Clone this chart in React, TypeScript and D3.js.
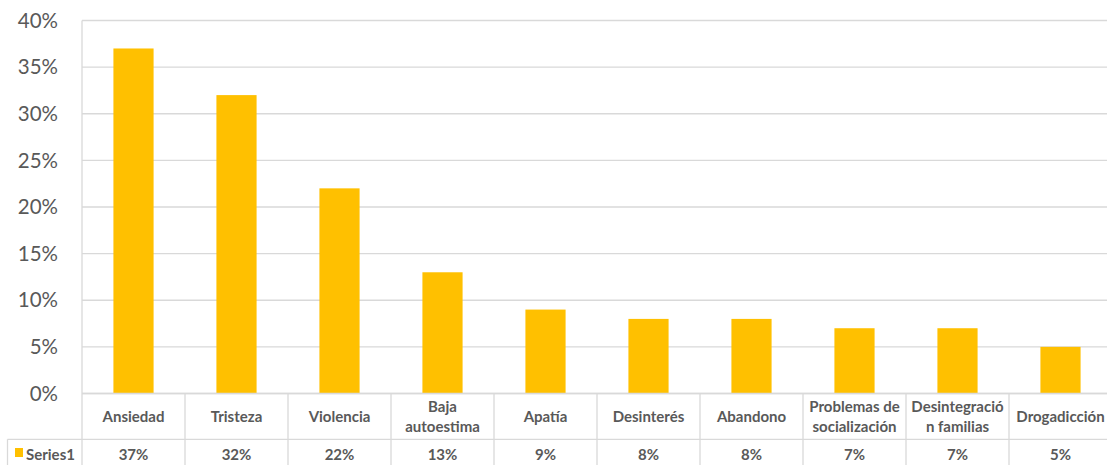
import React from "react";
import * as d3 from "d3";

const categories = [
  "Ansiedad",
  "Tristeza",
  "Violencia",
  "Baja\nautoestima",
  "Apatía",
  "Desinterés",
  "Abandono",
  "Problemas de\nsocialización",
  "Desintegració\nn familias",
  "Drogadicción",
];
const values = [0.37, 0.32, 0.22, 0.13, 0.09, 0.08, 0.08, 0.07, 0.07, 0.05];
const yTicks = [0, 0.05, 0.1, 0.15, 0.2, 0.25, 0.3, 0.35, 0.4];
const seriesName = "Series1";

const W = 1107;
const H = 465;
const left = 82;
const right = 1112;
const top = 20.5;
const bottom = 393.5;
const rowSep = 439.3;
const tableBottom = 466;
const font = "Lato, 'Open Sans', sans-serif";
const textColor = "#595959";
const gridColor = "#d9d9d9";
const barColor = "#FFC000";

export default function App() {
  const x = d3.scaleBand<string>().domain(categories).range([left, right]).paddingInner(0).paddingOuter(0);
  const y = d3.scaleLinear().domain([0, 0.4]).range([bottom, top]);
  const bw = x.bandwidth();
  const barW = bw * 0.39;
  const fmt = d3.format(".0%");

  return (
    <svg width={W} height={H} style={{ position: "absolute", left: 0, top: 0, background: "#fff" }}>
      {yTicks.map((t) => (
        <line key={"g" + t} x1={left} x2={right} y1={y(t)} y2={y(t)} stroke={gridColor} strokeWidth={1.3} />
      ))}
      {yTicks.map((t) => (
        <text
          key={"yl" + t}
          x={58}
          y={y(t)}
          dy="0.35em"
          textAnchor="end"
          fontFamily={font}
          fontSize={20.5}
          fill={textColor}
        >
          {fmt(t)}
        </text>
      ))}
      {categories.map((c, i) => (
        <rect
          key={"b" + c}
          x={(x(c) as number) + (bw - barW) / 2}
          y={y(values[i])}
          width={barW}
          height={bottom - y(values[i])}
          fill={barColor}
        />
      ))}
      <line x1={left} x2={right} y1={bottom} y2={bottom} stroke={gridColor} strokeWidth={1.3} />
      <line x1={7.5} x2={right} y1={rowSep} y2={rowSep} stroke={gridColor} strokeWidth={1.3} />
      <line x1={7.5} x2={7.5} y1={rowSep} y2={tableBottom} stroke={gridColor} strokeWidth={1.3} />
      <line x1={left} x2={left} y1={top} y2={tableBottom} stroke={gridColor} strokeWidth={1.3} />
      {categories.map((c) => (
        <line
          key={"v" + c}
          x1={(x(c) as number) + bw}
          x2={(x(c) as number) + bw}
          y1={bottom}
          y2={tableBottom}
          stroke={gridColor}
          strokeWidth={1.3}
        />
      ))}
      {categories.map((c) => {
        const lines = c.split("\n");
        const cx = (x(c) as number) + bw / 2;
        const cy = (bottom + rowSep) / 2;
        const lh = 20;
        return (
          <text
            key={"c" + c}
            textAnchor="middle"
            fontFamily={font}
            fontSize={15}
            fontWeight="bold"
            fill={textColor}
          >
            {lines.map((l, j) => (
              <tspan key={j} x={cx} y={cy + (j - (lines.length - 1) / 2) * lh} dy="0.35em">
                {l}
              </tspan>
            ))}
          </text>
        );
      })}
      {categories.map((c, i) => (
        <text
          key={"v" + c}
          x={(x(c) as number) + bw / 2}
          y={455}
          dy="0.35em"
          textAnchor="middle"
          fontFamily={font}
          fontSize={15}
          fontWeight="bold"
          fill={textColor}
        >
          {fmt(values[i])}
        </text>
      ))}
      <rect x={15} y={448} width={8} height={9} fill={barColor} />
      <text x={26} y={455} dy="0.35em" fontFamily={font} fontSize={15} fontWeight="bold" fill={textColor}>
        {seriesName}
      </text>
    </svg>
  );
}
